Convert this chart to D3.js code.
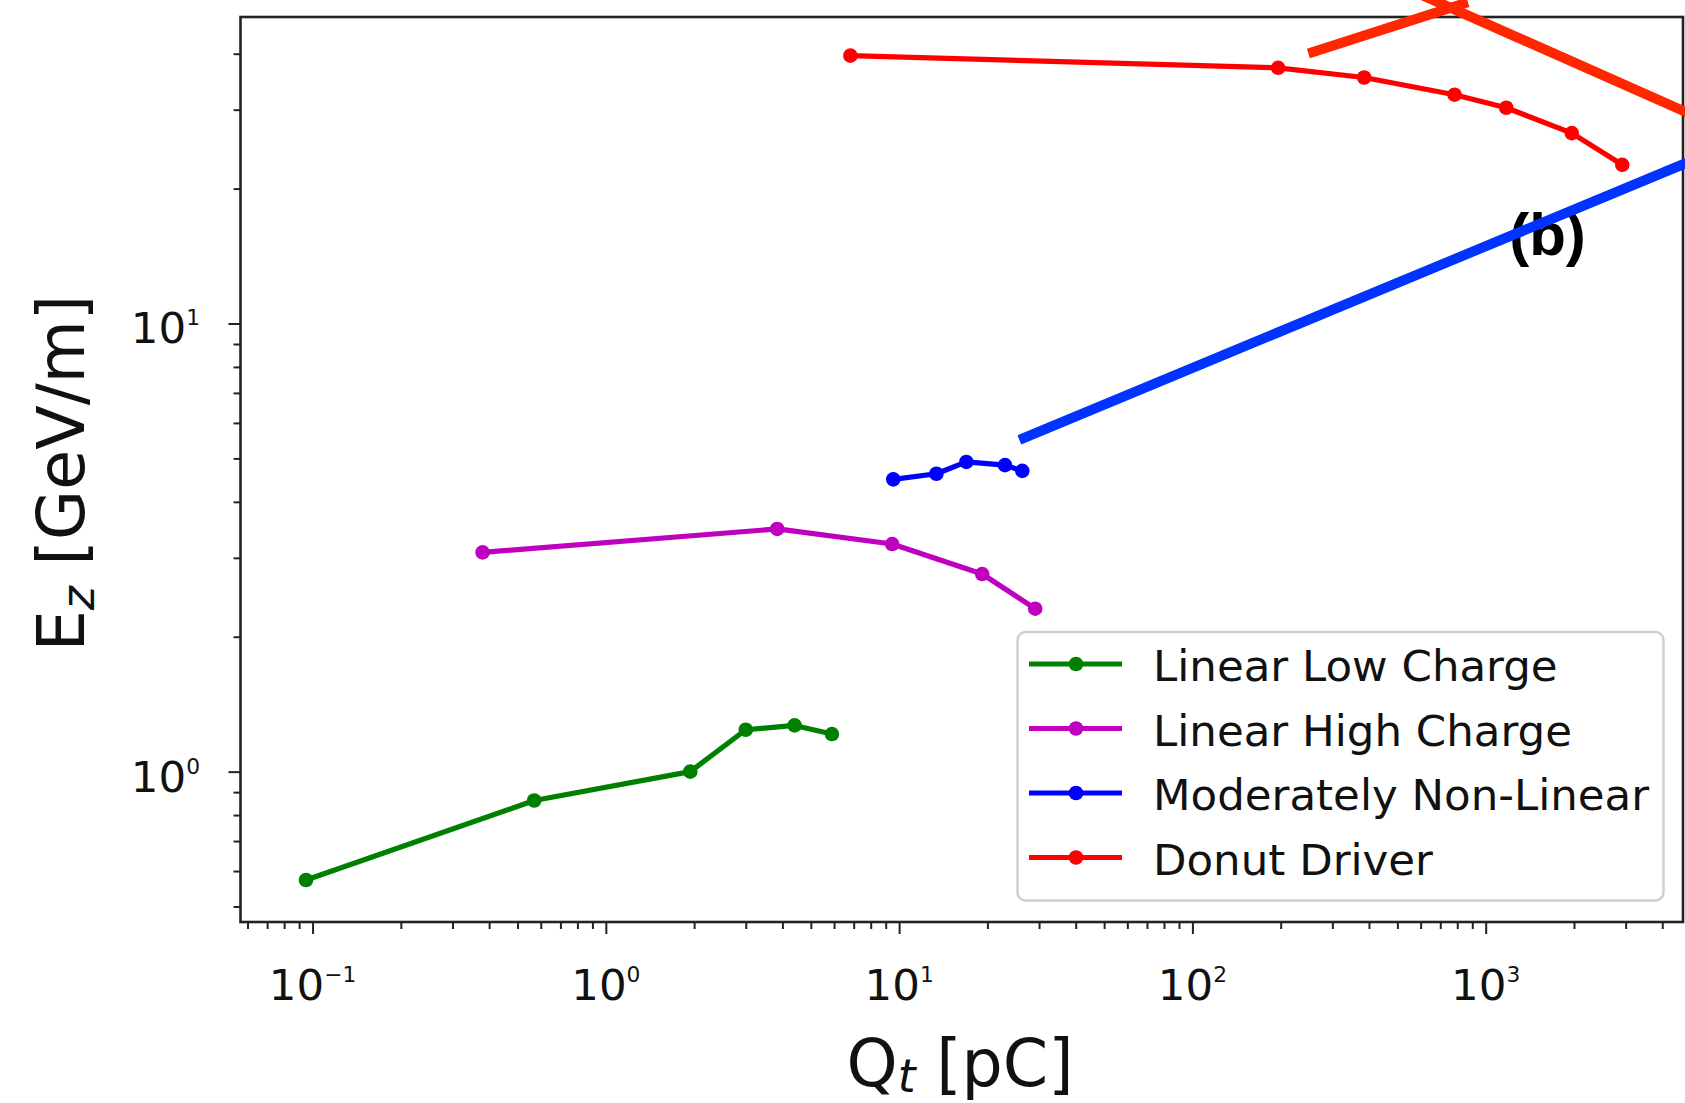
<!DOCTYPE html>
<html><head><meta charset="utf-8">
<script src="https://cdn.jsdelivr.net/npm/d3@7"></script>
<style>body{margin:0;background:#fff} svg{display:block}</style>
</head><body>
<svg id="chart" width="1685" height="1103"></svg>
<script>
// ---- data ----
const seriesNames = ["Linear Low Charge", "Linear High Charge", "Moderately Non-Linear", "Donut Driver"];
const seriesColors = ["#008000", "#bf00bf", "#0000ff", "#ff0000"];

const lowChargeQ = [0.095, 0.57, 1.94, 3.0, 4.4, 5.9];
const lowChargeE = [0.573, 0.862, 1.0, 1.24, 1.268, 1.213];

const highChargeQ = [0.38, 3.84, 9.47, 19.2, 29.1];
const highChargeE = [3.085, 3.48, 3.22, 2.76, 2.31];

const nonLinearQ = [9.55, 13.4, 16.95, 22.96, 26.3];
const nonLinearE = [4.49, 4.62, 4.91, 4.83, 4.69];

const donutQ = [6.82, 196, 385, 783, 1175, 1966, 2922];
const donutE = [39.6, 37.2, 35.4, 32.4, 30.3, 26.6, 22.6];

const xMajorTicks = [0.1, 1, 10, 100, 1000];
const xTickExponents = ["\u22121", "0", "1", "2", "3"];
const yMajorTicks = [1, 10];
const yTickExponents = ["0", "1"];

// overlay annotation strokes (in data coordinates)
const overlayRedAQ = [248.5, 870];
const overlayRedAE = [40.05, 52.1];
const overlayRedBQ = [597, 5383];
const overlayRedBE = [54.3, 28.7];
const overlayBlueQ = [25.7, 5383];
const overlayBlueE = [5.50, 23.5];
const panelLabel = "(b)";

const xLabel = ["Q", "t", " [pC]"];
const yLabel = ["E", "z", " [GeV/m]"];

// ---- build ----
const svg = d3.select("#chart");
const L = 240.5, R = 1683, T = 17, B = 922;

const x = d3.scaleLog().domain([0.0568, 4707]).range([L, R]);
const y = d3.scaleLog().domain([0.4618, 48.3]).range([B, T]);

function minorTicks(scale) {
  const [a, b] = scale.domain();
  const out = [];
  for (let d = -3; d <= 4; d++) {
    for (let k = 2; k <= 9; k++) {
      const v = k * Math.pow(10, d);
      if (v >= a && v <= b) out.push(v);
    }
  }
  return out;
}

const axisColor = "#222";

// x axis
const gx = svg.append("g").attr("transform", `translate(0,${B})`);
gx.call(d3.axisBottom(x).tickValues(xMajorTicks).tickSize(12).tickFormat(""));
const gxm = svg.append("g").attr("transform", `translate(0,${B})`);
gxm.call(d3.axisBottom(x).tickValues(minorTicks(x)).tickSize(7).tickFormat(""));
// y axis
const gy = svg.append("g").attr("transform", `translate(${L},0)`);
gy.call(d3.axisLeft(y).tickValues(yMajorTicks).tickSize(12).tickFormat(""));
const gym = svg.append("g").attr("transform", `translate(${L},0)`);
gym.call(d3.axisLeft(y).tickValues(minorTicks(y)).tickSize(7).tickFormat(""));

[gx, gxm, gy, gym].forEach(g => {
  g.select(".domain").remove();
  g.selectAll(".tick line").attr("stroke", axisColor).attr("stroke-width", 2);
});

// frame
svg.append("rect").attr("x", L).attr("y", T).attr("width", R - L).attr("height", B - T)
  .attr("fill", "none").attr("stroke", axisColor).attr("stroke-width", 2.6);

const font = "'DejaVu Sans', sans-serif";
const tickFs = 43.5;

function powerLabel(parent, px, py, anchor, exp) {
  const t = parent.append("text").attr("x", px).attr("y", py)
    .attr("text-anchor", anchor).attr("font-family", font)
    .attr("font-size", tickFs).attr("fill", "#111");
  t.append("tspan").text("10");
  t.append("tspan").attr("font-size", tickFs * 0.5).attr("dy", -18).text(exp);
}

xMajorTicks.forEach((v, i) => powerLabel(svg, x(v), 999.5, "middle", xTickExponents[i]));
yMajorTicks.forEach((v, i) => powerLabel(svg, 200, y(v) + 20, "end", yTickExponents[i]));

// axis labels
const labFs = 65;
function subLabel(t, parts, drop) {
  t.append("tspan").text(parts[0]);
  t.append("tspan").attr("font-size", labFs * 0.7).attr("font-style", "italic").attr("dy", drop).text(parts[1]);
  t.append("tspan").attr("dy", -drop).text(parts[2]);
}
const xl = svg.append("text").attr("x", 960).attr("y", 1086)
  .attr("text-anchor", "middle").attr("font-family", font).attr("font-size", labFs).attr("fill", "#111");
subLabel(xl, xLabel, 6);
const yl = svg.append("text").attr("transform", "translate(84,473) rotate(-90)")
  .attr("text-anchor", "middle").attr("font-family", font).attr("font-size", labFs).attr("fill", "#111");
subLabel(yl, yLabel, 10);

// series
const series = [
  { q: lowChargeQ, e: lowChargeE },
  { q: highChargeQ, e: highChargeE },
  { q: nonLinearQ, e: nonLinearE },
  { q: donutQ, e: donutE }
];
const line = d3.line().x(d => x(d[0])).y(d => y(d[1]));
series.forEach((s, i) => {
  const pts = s.q.map((q, j) => [q, s.e[j]]);
  const g = svg.append("g");
  g.append("path").attr("d", line(pts)).attr("fill", "none")
    .attr("stroke", seriesColors[i]).attr("stroke-width", 5.2).attr("stroke-linejoin", "round");
  g.selectAll("circle").data(pts).enter().append("circle")
    .attr("cx", d => x(d[0])).attr("cy", d => y(d[1])).attr("r", 7.3).attr("fill", seriesColors[i]);
});

// legend
const lg = svg.append("g");
lg.append("rect").attr("x", 1017.5).attr("y", 632).attr("width", 646).attr("height", 268.5)
  .attr("rx", 8).attr("fill", "white").attr("fill-opacity", 0.8)
  .attr("stroke", "#cfcfcf").attr("stroke-width", 2.5);
seriesNames.forEach((name, i) => {
  const cy = 664 + i * 64.5;
  lg.append("line").attr("x1", 1029).attr("x2", 1122).attr("y1", cy).attr("y2", cy)
    .attr("stroke", seriesColors[i]).attr("stroke-width", 5.2);
  lg.append("circle").attr("cx", 1076).attr("cy", cy).attr("r", 7.3).attr("fill", seriesColors[i]);
  lg.append("text").attr("x", 1153).attr("y", cy + 17).attr("font-family", font)
    .attr("font-size", tickFs).attr("fill", "#111").text(name);
});

// overlay annotations
svg.append("text").attr("x", 1547.5).attr("y", 255).attr("text-anchor", "middle")
  .attr("font-family", "'Liberation Sans', Arial, sans-serif").attr("font-weight", "bold")
  .attr("font-size", 60).attr("fill", "#000").text(panelLabel);

function overlay(qs, es, color) {
  svg.append("path").attr("d", line(qs.map((q, j) => [q, es[j]])))
    .attr("fill", "none").attr("stroke", color).attr("stroke-width", 10).attr("stroke-linecap", "butt");
}
overlay(overlayRedAQ, overlayRedAE, "#ff2600");
overlay(overlayRedBQ, overlayRedBE, "#ff2600");
overlay(overlayBlueQ, overlayBlueE, "#0033ff");
</script>
</body></html>
